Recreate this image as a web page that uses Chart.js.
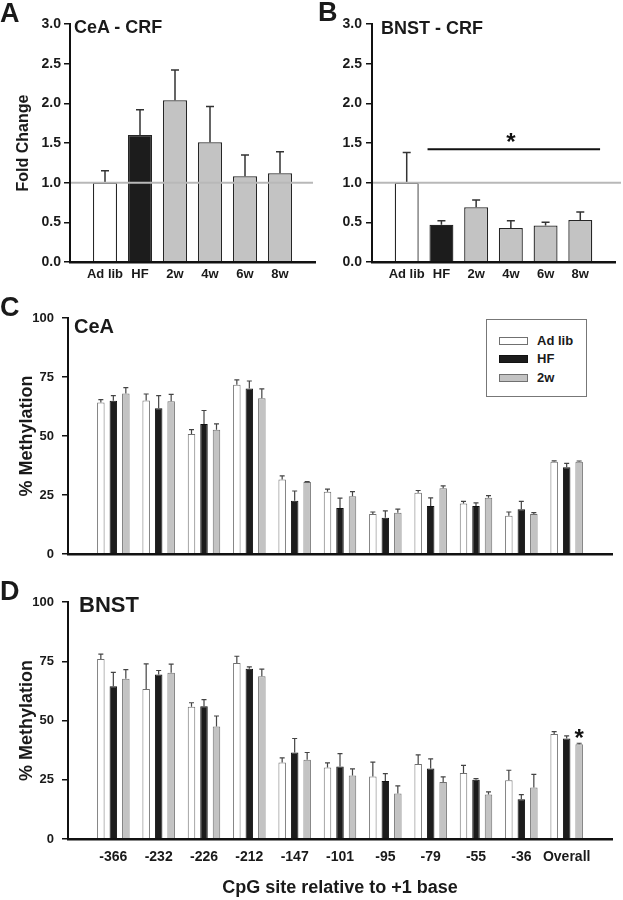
<!DOCTYPE html>
<html>
<head>
<meta charset="utf-8">
<script src="https://cdn.jsdelivr.net/npm/chart.js"></script>
<style>
  body { margin: 0; background: #fff; }
  #wrap { position: relative; width: 623px; height: 900px; overflow: hidden; font-family: "Liberation Sans", Arial, sans-serif; color: #1a1a1a; }
  canvas { position: absolute; }
  .lbl { position: absolute; font-weight: bold; line-height: 1; white-space: nowrap; }
  #legend { position: absolute; left: 486px; top: 319px; width: 101px; height: 78px; border: 1px solid #777; box-sizing: border-box; background: #fff; }
  #legend .sw { position: absolute; left: 12px; width: 29px; height: 8px; box-sizing: border-box; }
  #legend .tx { position: absolute; left: 50px; font-size: 13px; font-weight: bold; line-height: 16px; }
</style>
</head>
<body>
<div id="wrap">
  <canvas id="cA" width="320" height="290" style="left:0;top:0"></canvas>
  <canvas id="cB" width="303" height="290" style="left:320px;top:0"></canvas>
  <canvas id="cC" width="623" height="290" style="left:0;top:290px"></canvas>
  <canvas id="cD" width="623" height="320" style="left:0;top:580px"></canvas>

  <div class="lbl" style="left:0;top:0;font-size:27px">A</div>
  <div class="lbl" style="left:318px;top:-1px;font-size:27px">B</div>
  <div class="lbl" style="left:0;top:294px;font-size:27px">C</div>
  <div class="lbl" style="left:0;top:578px;font-size:27px">D</div>

  <div class="lbl" style="left:74px;top:18px;font-size:18px">CeA - CRF</div>
  <div class="lbl" style="left:381px;top:19px;font-size:18px">BNST - CRF</div>
  <div class="lbl" style="left:74px;top:316px;font-size:20px">CeA</div>
  <div class="lbl" style="left:79px;top:594px;font-size:22px">BNST</div>

  <div id="legend"></div>
</div>

<script>
// ---- Panels A / B : CRF mRNA fold change ----
const crfGroups = ["Ad lib", "HF", "2w", "4w", "6w", "8w"];
const ceaCrf = [1.0, 1.6, 2.04, 1.51, 1.08, 1.12];
const ceaCrfSem = [0.15, 0.32, 0.38, 0.45, 0.27, 0.27];
const bnstCrf = [1.0, 0.47, 0.69, 0.43, 0.46, 0.53];
const bnstCrfSem = [0.38, 0.05, 0.09, 0.09, 0.04, 0.1];
const bnstCrfSig = { from: 1.6, to: 6.57, y: 1.42 };

// ---- Panels C / D : % methylation per CpG site ----
const cpgSites = ["-366", "-232", "-226", "-212", "-147", "-101", "-95", "-79", "-55", "-36", "Overall"];
const methGroups = ["Ad lib", "HF", "2w"];

const ceaAdlib = [64.2, 65.0, 50.8, 71.7, 31.6, 26.4, 16.9, 26.0, 21.4, 16.2, 39.1];
const ceaAdlibSem = [1.2, 2.8, 1.9, 2.1, 1.5, 1.1, 0.9, 0.9, 0.9, 1.6, 0.4];
const ceaHF = [64.9, 61.8, 55.1, 70.1, 22.6, 19.5, 15.4, 20.3, 20.3, 19.0, 36.8];
const ceaHFSem = [2.2, 5.3, 5.7, 3.2, 4.1, 4.2, 2.9, 3.5, 1.4, 3.3, 1.6];
const cea2w = [68.0, 64.7, 52.6, 66.0, 30.5, 24.5, 17.5, 27.9, 23.8, 16.9, 39.1];
const cea2wSem = [2.5, 2.9, 2.5, 4.0, 0.2, 1.9, 1.5, 1.0, 0.9, 0.6, 0.3];

const bnstAdlib = [75.9, 63.3, 55.8, 74.3, 32.3, 30.2, 26.4, 31.6, 27.8, 24.8, 44.3];
const bnstAdlibSem = [2.1, 10.6, 1.7, 2.8, 1.9, 1.9, 6.0, 3.9, 3.3, 4.2, 1.0];
const bnstHF = [64.4, 69.4, 56.0, 71.8, 36.5, 30.6, 24.5, 29.7, 25.0, 16.8, 42.4];
const bnstHFSem = [5.9, 1.7, 2.8, 0.8, 5.9, 5.4, 3.1, 4.1, 0.5, 1.9, 1.1];
const bnst2w = [67.6, 70.1, 47.5, 68.7, 33.4, 26.8, 19.2, 24.1, 18.8, 21.7, 40.0];
const bnst2wSem = [3.9, 3.7, 4.4, 3.0, 3.1, 2.8, 3.2, 2.1, 1.1, 5.6, 0.4];
const bnstStar = { group: 2, site: 10 };

const FONT = "'Liberation Sans', Arial, sans-serif";
Chart.defaults.font.family = FONT;
Chart.defaults.font.weight = "bold";
Chart.defaults.color = "#1a1a1a";

const fills = ["#ffffff", "#1c1c1c", "#c3c3c3"];
const edges = ["#707070", "#111111", "#707070"];

// legend (C)
const legend = document.getElementById("legend");
methGroups.forEach((g, i) => {
  const top = 21 + i * 18.3;
  const sw = document.createElement("div");
  sw.className = "sw";
  sw.style.top = (top - 4) + "px";
  sw.style.background = fills[i];
  sw.style.border = "1px solid " + edges[i];
  legend.appendChild(sw);
  const tx = document.createElement("div");
  tx.className = "tx";
  tx.style.top = (top - 8) + "px";
  tx.textContent = g;
  legend.appendChild(tx);
});

// error bars (upper only)
const errorBars = {
  id: "errorBars",
  afterDatasetsDraw(chart, args, o) {
    const ctx = chart.ctx;
    const y = chart.scales.y;
    chart.data.datasets.forEach((ds, i) => {
      const meta = chart.getDatasetMeta(i);
      meta.data.forEach((bar, j) => {
        const top = y.getPixelForValue(ds.data[j].y + ds.sem[j]);
        ctx.save();
        ctx.strokeStyle = o.color;
        ctx.lineWidth = o.width;
        ctx.beginPath();
        ctx.moveTo(bar.x, bar.y);
        ctx.lineTo(bar.x, top);
        ctx.moveTo(bar.x - o.cap / 2, top);
        ctx.lineTo(bar.x + o.cap / 2, top);
        ctx.stroke();
        ctx.restore();
      });
    });
  },
};

// reference line, significance bar, asterisks
const marks = {
  id: "marks",
  afterDatasetsDraw(chart, args, o) {
    const ctx = chart.ctx;
    const { x, y } = chart.scales;
    const area = chart.chartArea;
    ctx.save();
    if (o.ref) {
      const py = y.getPixelForValue(o.ref.value);
      ctx.strokeStyle = "#b8b8b8";
      ctx.lineWidth = 2;
      ctx.beginPath();
      ctx.moveTo(area.left, py);
      ctx.lineTo(area.right + o.ref.extend, py);
      ctx.stroke();
    }
    ctx.fillStyle = "#111";
    ctx.font = "bold 24px " + FONT;
    ctx.textAlign = "center";
    ctx.textBaseline = "alphabetic";
    if (o.sig) {
      const py = y.getPixelForValue(o.sig.y);
      ctx.strokeStyle = "#111";
      ctx.lineWidth = 2;
      ctx.beginPath();
      ctx.moveTo(x.getPixelForValue(o.sig.from), py);
      ctx.lineTo(x.getPixelForValue(o.sig.to), py);
      ctx.stroke();
      ctx.fillText("*", x.getPixelForValue(4), py + 1);
    }
    if (o.star) {
      const ds = chart.data.datasets[o.star.group];
      const bar = chart.getDatasetMeta(o.star.group).data[o.star.site];
      const v = ds.data[o.star.site].y + ds.sem[o.star.site];
      ctx.fillText("*", bar.x, y.getPixelForValue(v) + 3);
    }
    ctx.restore();
  },
};

function crfChart(id, values, sem, opt) {
  return new Chart(document.getElementById(id), {
    type: "bar",
    data: {
      datasets: [
        {
          data: values.map((v, i) => ({ x: i + 1, y: v })),
          sem: sem,
          backgroundColor: crfGroups.map((g, i) => fills[Math.min(i, 2)]),
          borderColor: "#262626",
          borderWidth: 1.3,
          barPercentage: 0.69,
          categoryPercentage: 1,
        },
      ],
    },
    options: {
      responsive: false,
      animation: false,
      layout: { padding: { top: 24, right: opt.right, bottom: 0, left: 0 } },
      plugins: {
        legend: { display: false },
        tooltip: { enabled: false },
        errorBars: { color: "#333", width: 1.5, cap: 8 },
        marks: { ref: { value: 1, extend: opt.extend }, sig: opt.sig },
      },
      scales: {
        x: {
          type: "linear",
          min: 0,
          max: crfGroups.length + 1,
          offset: false,
          afterFit: (s) => { s.height = 28; },
          afterBuildTicks: (s) => { s.ticks = crfGroups.map((g, i) => ({ value: i + 1 })); },
          ticks: {
            callback: (v) => crfGroups[v - 1],
            autoSkip: false,
            maxRotation: 0,
            padding: 5,
            font: { size: 13, weight: "bold" },
          },
          grid: { display: false, drawTicks: false },
          border: { color: "#111", width: 2.5, z: 1 },
        },
        y: {
          min: 0,
          max: 3,
          afterFit: (s) => { s.width = opt.yWidth; },
          ticks: {
            stepSize: 0.5,
            callback: (v) => v.toFixed(1),
            padding: opt.tickPad,
            font: { size: 14, weight: "bold" },
          },
          grid: { drawOnChartArea: false, drawTicks: true, tickLength: 6, color: "#111", lineWidth: 1.5 },
          border: { color: "#111", width: 2, z: 1 },
          title: {
            display: !!opt.yTitle,
            text: opt.yTitle,
            font: { size: 16, weight: "bold" },
            padding: { top: 14, bottom: 0 },
          },
        },
      },
    },
    plugins: [errorBars, marks],
  });
}

function methChart(id, series, sems, opt) {
  return new Chart(document.getElementById(id), {
    type: "bar",
    data: {
      datasets: methGroups.map((g, k) => ({
        label: g,
        data: series[k].map((v, i) => ({ x: i + 1, y: v })),
        sem: sems[k],
        backgroundColor: fills[k],
        borderColor: edges[k],
        borderWidth: 1,
        barPercentage: 0.6,
        categoryPercentage: 0.827,
      })),
    },
    options: {
      responsive: false,
      animation: false,
      layout: { padding: { top: opt.top, right: 11, bottom: 0, left: 0 } },
      plugins: {
        legend: { display: false },
        tooltip: { enabled: false },
        errorBars: { color: "#444", width: 1.2, cap: 5 },
        marks: { star: opt.star },
      },
      scales: {
        x: {
          type: "linear",
          min: 0,
          max: cpgSites.length + 1,
          offset: false,
          afterFit: (s) => { s.height = opt.xHeight; },
          afterBuildTicks: (s) => { s.ticks = cpgSites.map((c, i) => ({ value: i + 1 })); },
          ticks: {
            display: opt.showLabels,
            callback: (v) => cpgSites[v - 1],
            autoSkip: false,
            maxRotation: 0,
            padding: 10,
            font: { size: 14, weight: "bold" },
          },
          grid: { display: false, drawTicks: false },
          border: { color: "#111", width: 2.5, z: 1 },
          title: {
            display: opt.showLabels,
            text: "CpG site relative to +1 base",
            font: { size: 18, weight: "bold" },
            padding: { top: 0, bottom: 1 },
          },
        },
        y: {
          min: 0,
          max: 100,
          afterFit: (s) => { s.width = 68; },
          ticks: { stepSize: 25, padding: 8, font: { size: 13, weight: "bold" } },
          grid: { drawOnChartArea: false, drawTicks: true, tickLength: 6, color: "#111", lineWidth: 1.5 },
          border: { color: "#111", width: 2, z: 1 },
          title: {
            display: true,
            text: "% Methylation",
            font: { size: 18, weight: "bold" },
            padding: { top: 16, bottom: 0 },
          },
        },
      },
    },
    plugins: [errorBars, marks],
  });
}

crfChart("cA", ceaCrf, ceaCrfSem, { yTitle: "Fold Change", yWidth: 70, right: 5, tickPad: 3, extend: -2 });
crfChart("cB", bnstCrf, bnstCrfSem, { yTitle: "", yWidth: 52, right: 8, tickPad: 4, extend: 6, sig: bnstCrfSig });

methChart("cC", [ceaAdlib, ceaHF, cea2w], [ceaAdlibSem, ceaHFSem, cea2wSem], { top: 28, xHeight: 26, showLabels: false });
methChart("cD", [bnstAdlib, bnstHF, bnst2w], [bnstAdlibSem, bnstHFSem, bnst2wSem], { top: 22, xHeight: 61, showLabels: true, star: bnstStar });
</script>
</body>
</html>
